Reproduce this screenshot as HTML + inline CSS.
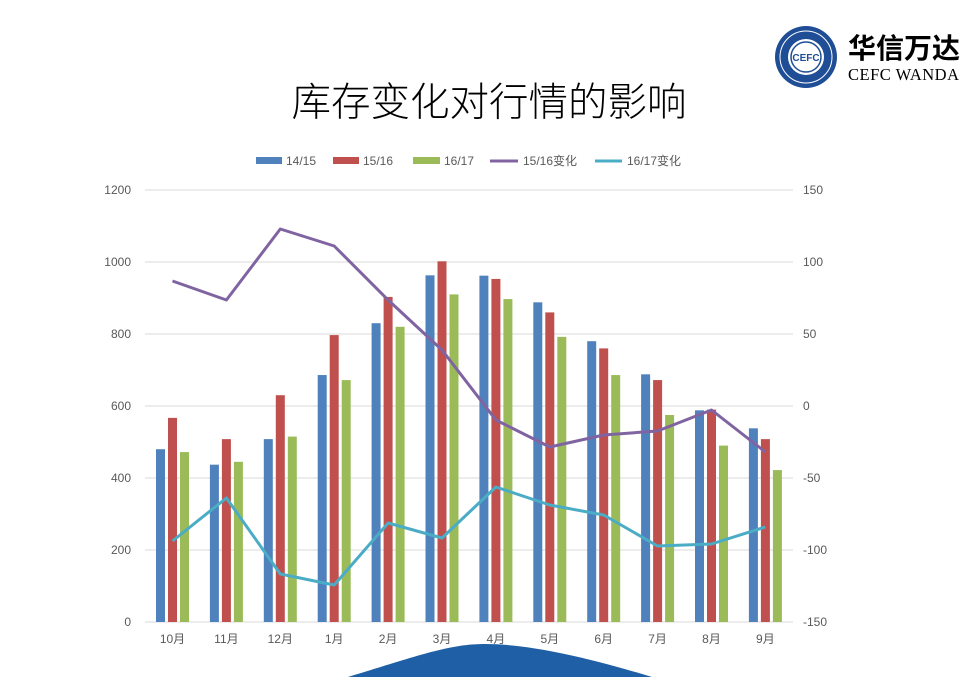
<!DOCTYPE html>
<html><head><meta charset="utf-8"><style>
body{margin:0;background:#fff;}
svg{display:block;font-family:"Liberation Sans","Noto Sans CJK SC",sans-serif;}
</style></head><body>
<svg width="973" height="677" viewBox="0 0 973 677" xmlns="http://www.w3.org/2000/svg">
<rect width="973" height="677" fill="#fff"/>
<!-- logo -->
<circle cx="806" cy="57" r="31" fill="#1f4e96"/>
<circle cx="806" cy="57" r="26" fill="none" stroke="#fff" stroke-width="1"/>
<circle cx="806" cy="57" r="18" fill="#fff"/>
<circle cx="806" cy="57" r="15" fill="none" stroke="#1f4e96" stroke-width="1.5"/>
<text x="806" y="61" font-size="10" font-weight="bold" fill="#1f4e96" text-anchor="middle">CEFC</text>
<text x="848" y="58" font-size="28" font-weight="bold" fill="#000" font-family="'Noto Sans CJK SC',sans-serif">华信万达</text>
<text x="848" y="80" font-size="16.5" fill="#000" font-family="'Liberation Serif',serif" letter-spacing="0.5">CEFC WANDA</text>
<!-- title -->
<text x="489" y="116" font-size="39.5" font-weight="300" fill="#000" text-anchor="middle" font-family="'Noto Sans CJK SC',sans-serif">库存变化对行情的影响</text>
<!-- legend -->
<g font-size="12" fill="#595959">
<rect x="256" y="157" width="26" height="7" fill="#4f81bd"/><text x="286" y="165">14/15</text>
<rect x="333" y="157" width="26" height="7" fill="#c0504d"/><text x="363" y="165">15/16</text>
<rect x="413" y="157" width="27" height="7" fill="#9bbb59"/><text x="444" y="165">16/17</text>
<line x1="490" y1="161" x2="518" y2="161" stroke="#8064a2" stroke-width="3"/><text x="523" y="165">15/16变化</text>
<line x1="595" y1="161" x2="622" y2="161" stroke="#4bacc6" stroke-width="3"/><text x="627" y="165">16/17变化</text>
</g>
<!-- grid -->
<g stroke="#d9d9d9" stroke-width="1">
<line x1="145" y1="190" x2="793" y2="190"/><line x1="145" y1="262" x2="793" y2="262"/>
<line x1="145" y1="334" x2="793" y2="334"/><line x1="145" y1="406" x2="793" y2="406"/>
<line x1="145" y1="478" x2="793" y2="478"/><line x1="145" y1="550" x2="793" y2="550"/>
<line x1="145" y1="622" x2="793" y2="622"/>
</g>
<g font-size="12" fill="#595959" text-anchor="end">
<text x="131" y="194">1200</text><text x="131" y="266">1000</text><text x="131" y="338">800</text>
<text x="131" y="410">600</text><text x="131" y="482">400</text><text x="131" y="554">200</text><text x="131" y="626">0</text>
</g>
<g font-size="12" fill="#595959">
<text x="803" y="194">150</text><text x="803" y="266">100</text><text x="803" y="338">50</text>
<text x="803" y="410">0</text><text x="803" y="482">-50</text><text x="803" y="554">-100</text><text x="803" y="626">-150</text>
</g>
<g id="bars"></g>
<g font-size="12" fill="#595959" text-anchor="middle" id="xl"></g>
<polyline id="p1" fill="none" stroke="#8064a2" stroke-width="3" stroke-linejoin="round"/>
<polyline id="p2" fill="none" stroke="#4bacc6" stroke-width="3" stroke-linejoin="round"/>
<path d="M348 677 C420 655 450 644 485 644 C525 644 580 655 652 677 Z" fill="#1f5fa5"/>
<script>
var a=[480,437,508,686,830,963,962,888,780,688,588,538],
b=[567,508,630,797,903,1002,953,860,760,672,590,508],
c=[472,445,515,672,820,910,897,792,686,575,490,422],
p1=[281,300,229,246,300,350,420,447,435,431,410,452],
p2=[541,498,574,585,523,538,487,505,515,546,544,527],
lb=["10月","11月","12月","1月","2月","3月","4月","5月","6月","7月","8月","9月"];
var ns="http://www.w3.org/2000/svg",g=document.getElementById("bars"),xl=document.getElementById("xl"),s1="",s2="";
function r(x,v,col){var e=document.createElementNS(ns,"rect");var h=v*0.36;e.setAttribute("x",x);e.setAttribute("y",622-h);e.setAttribute("width",9);e.setAttribute("height",h);e.setAttribute("fill",col);g.appendChild(e);}
for(var i=0;i<12;i++){var x=156+53.9*i;r(x,a[i],"#4f81bd");r(x+12,b[i],"#c0504d");r(x+24,c[i],"#9bbb59");
var cx=x+16.5;s1+=cx+","+p1[i]+" ";s2+=cx+","+p2[i]+" ";
var t=document.createElementNS(ns,"text");t.setAttribute("x",cx);t.setAttribute("y",643);t.textContent=lb[i];xl.appendChild(t);}
document.getElementById("p1").setAttribute("points",s1);document.getElementById("p2").setAttribute("points",s2);
</script>
</svg>
</body></html>
